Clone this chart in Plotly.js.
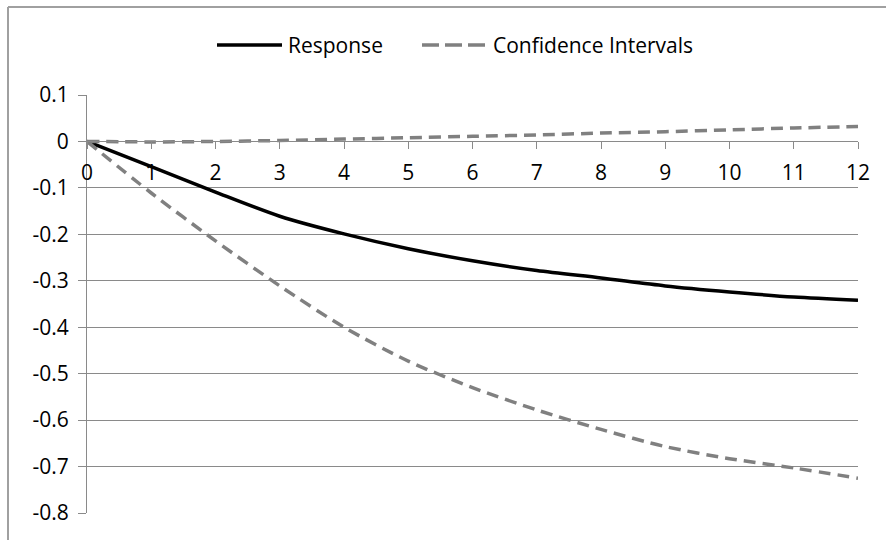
<!DOCTYPE html>
<html>
<head>
<meta charset="utf-8">
<script src="https://cdn.plot.ly/plotly-3.0.1.min.js"></script>
<style>html,body{margin:0;padding:0;background:#fff;}#chart{width:886px;height:540px;}</style>
</head>
<body>
<div id="chart"></div>
<script>
// ---- data ----
var periods = [0, 1, 2, 3, 4, 5, 6, 7, 8, 9, 10, 11, 12];
var response = [0, -0.054, -0.109, -0.161, -0.199, -0.231, -0.257, -0.278, -0.294, -0.311, -0.324, -0.335, -0.342];
var ciUpper = [0, -0.001, 0.000, 0.002, 0.005, 0.008, 0.011, 0.014, 0.018, 0.021, 0.025, 0.029, 0.032];
var ciLower = [0, -0.111, -0.214, -0.311, -0.400, -0.473, -0.530, -0.578, -0.620, -0.657, -0.683, -0.703, -0.725];
var seriesNames = ["Response", "Confidence Intervals"];
var xTickVals = [0, 1, 2, 3, 4, 5, 6, 7, 8, 9, 10, 11, 12];
var xTickText = ["0", "1", "2", "3", "4", "5", "6", "7", "8", "9", "10", "11", "12"];
var yTickVals = [0.1, 0, -0.1, -0.2, -0.3, -0.4, -0.5, -0.6, -0.7, -0.8];
var yTickText = ["0.1", "0", "-0.1", "-0.2", "-0.3", "-0.4", "-0.5", "-0.6", "-0.7", "-0.8"];

// ---- layout geometry (pixels) ----
var W = 886, H = 540;
var M = {l: 87, r: 28, t: 95, b: 27};
var pw = W - M.l - M.r, ph = H - M.t - M.b;
function px(x) { return (x - M.l) / pw; }
function py(y) { return (H - M.b - y) / ph; }

var FONT = "Open Sans, Noto Sans, sans-serif";
var GRID = "#8a8a8a";
var DASH = "12px,7px";
var yMin = -0.8, yMax = 0.1;

var traces = [
  {x: periods, y: response, name: seriesNames[0], mode: "lines", showlegend: false,
   line: {color: "#000000", width: 3.5, shape: "spline", smoothing: 0.8}},
  {x: periods, y: ciUpper, name: seriesNames[1], legendgroup: "ci", mode: "lines", showlegend: false,
   line: {color: "#808080", width: 3.5, dash: DASH, shape: "spline", smoothing: 0.8}},
  {x: periods, y: ciLower, name: seriesNames[1], legendgroup: "ci", mode: "lines", showlegend: false,
   line: {color: "#808080", width: 3.5, dash: DASH, shape: "spline", smoothing: 0.8}}
];

var layout = {
  width: W, height: H,
  margin: M,
  paper_bgcolor: "#ffffff", plot_bgcolor: "#ffffff",
  font: {family: FONT, size: 21, color: "#000000"},
  showlegend: false,
  xaxis: {
    range: [0, 12], anchor: "free", position: (0 - yMin) / (yMax - yMin),
    tickmode: "array", tickvals: xTickVals, ticktext: xTickText,
    ticks: "outside", ticklen: 7, tickcolor: GRID, tickwidth: 1,
    showline: true, linecolor: GRID, linewidth: 1,
    showgrid: false, zeroline: false, ticklabelstandoff: 5,
    tickfont: {family: FONT, size: 21, color: "#000"}
  },
  yaxis: {
    range: [yMin, yMax],
    tickmode: "array", tickvals: yTickVals, ticktext: yTickText,
    ticks: "outside", ticklen: 8, tickcolor: GRID, tickwidth: 1,
    showline: true, linecolor: GRID, linewidth: 1,
    showgrid: true, gridcolor: GRID, gridwidth: 1, zeroline: false,
    ticklabelstandoff: 5,
    tickfont: {family: FONT, size: 21, color: "#000"}
  },
  shapes: [
    // chart border (top & left)
    {type: "line", xref: "paper", yref: "paper", x0: px(8), x1: px(W + 5), y0: py(7), y1: py(7),
     line: {color: "#a0a0a0", width: 2}},
    {type: "line", xref: "paper", yref: "paper", x0: px(8), x1: px(8), y0: py(7), y1: py(H + 5),
     line: {color: "#a0a0a0", width: 2}},
    // legend symbols
    {type: "line", xref: "paper", yref: "paper", x0: px(217), x1: px(282), y0: py(45), y1: py(45),
     line: {color: "#000000", width: 3.5}},
    {type: "line", xref: "paper", yref: "paper", x0: px(422), x1: px(486), y0: py(45), y1: py(45),
     line: {color: "#808080", width: 3.5, dash: "17px,6px"}}
  ],
  annotations: [
    {xref: "paper", yref: "paper", x: px(286), y: py(45), xanchor: "left", yanchor: "middle",
     text: seriesNames[0], showarrow: false, font: {family: FONT, size: 21, color: "#000"}},
    {xref: "paper", yref: "paper", x: px(491), y: py(45), xanchor: "left", yanchor: "middle",
     text: seriesNames[1], showarrow: false, font: {family: FONT, size: 21, color: "#000"}}
  ]
};

Plotly.newPlot("chart", traces, layout, {staticPlot: true, displayModeBar: false});
</script>
</body>
</html>
